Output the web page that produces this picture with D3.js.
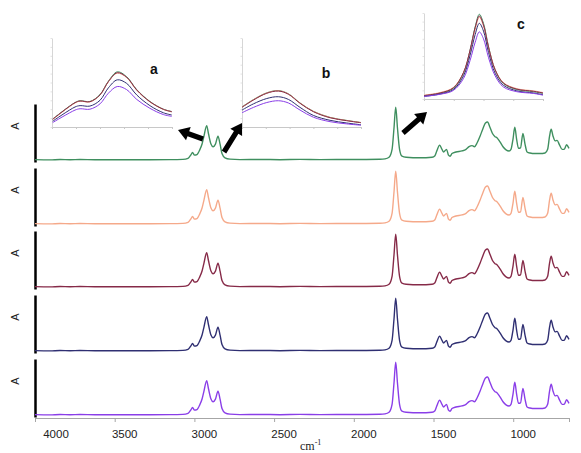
<!DOCTYPE html>
<html>
<head>
<meta charset="utf-8">
<script src="https://cdnjs.cloudflare.com/ajax/libs/d3/7.8.5/d3.min.js"></script>
<style>
body{margin:0;background:#fff;}
#plot{width:581px;height:453px;}
</style>
</head>
<body>
<div id="plot"></div>
<script>
// spectrum (wavenumber in cm-1, absorbance relative to the C=O peak)
var wavenumber = [4000,3906,3843,3780,3718,3624,3529,3404,3279,3153,3072,3040,3021,3012,2999,2984,2965,2952,2940,2923,2912,2896,2883,2868,2852,2839,2827,2808,2777,2714,
    2588,2463,2338,2212,2087,1961,1836,1804,1779,1760,1748,1737,1726,1713,1698,1672,1585,1509,1491,1478,1462,1450,1437,1418,1406,1396,1384,1359,1321,1296,
    1277,1258,1243,1227,1208,1189,1174,1161,1146,1130,1114,1102,1083,1064,1045,1026,1014,1001,990,979,967,954,939,926,913,895,863,832,800,784,
    772,762,750,737,725,709,693,680,665,656,650];
var absorbance = [0.005,0.0,0.008,0.002,0.007,0.002,0.004,0.002,0.004,0.005,0.01,0.03,0.1,0.14,0.09,0.1,0.2,0.3,0.45,0.65,0.5,0.3,0.25,0.3,0.45,0.3,0.12,0.04,0.015,0.006,
    0.008,0.004,0.009,0.005,0.007,0.008,0.012,0.02,0.05,0.2,0.6,1.0,0.6,0.2,0.07,0.05,0.04,0.05,0.08,0.18,0.28,0.22,0.15,0.2,0.09,0.07,0.12,0.15,0.17,0.2,
    0.25,0.27,0.25,0.32,0.45,0.6,0.7,0.72,0.62,0.5,0.44,0.42,0.34,0.25,0.19,0.17,0.2,0.4,0.62,0.4,0.22,0.23,0.5,0.3,0.15,0.13,0.12,0.12,0.13,0.2,
    0.45,0.58,0.45,0.36,0.37,0.28,0.2,0.2,0.29,0.25,0.22];

// one colour per sample, top panel first
var sampleColors = ['#3f8f5f', '#f5a98a', '#862a48', '#2f2f72', '#8a3ee8'];

// x axis ticks and labels
var xTicks = [4000, 3500, 3000, 2500, 2000, 1500, 1000];
var xLabels = ['4000', '3500', '3000', '2500', '2000', '1500', '1000'];

// insets (order of curves = sampleColors)
var insetAX = [0.03, 0.96, 1.17, 1.58, 2.0, 2.35, 2.72, 3.11, 3.53, 4.08, 4.64, 4.99];
var insetAValues = [
    [0.09, 0.275, 0.295, 0.287, 0.365, 0.515, 0.62, 0.565, 0.42, 0.287, 0.2, 0.174],
    [0.085, 0.27, 0.29, 0.282, 0.358, 0.508, 0.605, 0.555, 0.413, 0.282, 0.197, 0.17],
    [0.087, 0.273, 0.292, 0.284, 0.36, 0.51, 0.61, 0.56, 0.416, 0.284, 0.199, 0.172],
    [0.065, 0.225, 0.24, 0.235, 0.3, 0.44, 0.53, 0.49, 0.36, 0.24, 0.16, 0.135],
    [0.05, 0.19, 0.205, 0.2, 0.26, 0.38, 0.455, 0.42, 0.31, 0.21, 0.14, 0.12]
];
var insetBX = [0, 0.48, 1.04, 1.53, 1.95, 2.44, 3.0, 3.7, 4.4, 5.0];
var insetBValues = [
    [0.226, 0.308, 0.384, 0.409, 0.373, 0.27, 0.176, 0.108, 0.074, 0.05],
    [0.224, 0.306, 0.382, 0.407, 0.371, 0.269, 0.175, 0.107, 0.073, 0.05],
    [0.221, 0.303, 0.379, 0.404, 0.368, 0.266, 0.172, 0.104, 0.071, 0.048],
    [0.19, 0.26, 0.32, 0.34, 0.31, 0.22, 0.13, 0.075, 0.045, 0.025],
    [0.16, 0.22, 0.275, 0.295, 0.27, 0.19, 0.11, 0.06, 0.035, 0.02]
];
var insetCX = [0, 0.54, 0.99, 1.33, 1.55, 1.72, 1.86, 2.0, 2.17, 2.39, 2.67, 3.12, 3.68, 4.0];
var insetCValues = [
    [0.038, 0.066, 0.124, 0.3, 0.57, 0.84, 0.985, 0.88, 0.61, 0.34, 0.18, 0.11, 0.085, 0.066],
    [0.045, 0.075, 0.135, 0.31, 0.56, 0.81, 0.95, 0.85, 0.6, 0.345, 0.19, 0.12, 0.095, 0.075],
    [0.04, 0.07, 0.13, 0.31, 0.57, 0.83, 0.965, 0.86, 0.6, 0.34, 0.185, 0.115, 0.09, 0.07],
    [0.03, 0.058, 0.11, 0.27, 0.51, 0.75, 0.88, 0.79, 0.54, 0.3, 0.16, 0.095, 0.07, 0.05],
    [0.03, 0.055, 0.1, 0.24, 0.45, 0.66, 0.78, 0.7, 0.48, 0.27, 0.14, 0.085, 0.065, 0.045]
];

var W = 581, H = 453;
var svg = d3.select('#plot').append('svg').attr('width', W).attr('height', H)
    .style('font-family', '"Liberation Sans", Arial, sans-serif');

// x scale, reversed like an ir spectrum
var plotL = 35, plotR = 569, axisY = 418;
var scaleX = d3.scaleLinear().domain([4000, 650]).range([plotL, plotR]);

// panel baselines
var panelBase = [160, 224, 287, 351, 415];

svg.append('defs').append('clipPath').attr('id', 'clip')
    .append('rect').attr('x', plotL).attr('y', 0).attr('width', plotR - plotL + 1).attr('height', H);

var spectrum = wavenumber.map(function(w, i){return {w: w, a: absorbance[i]}});

panelBase.forEach(function(base, i){
    var scaleY = d3.scaleLinear().domain([-0.04, 1.06]).range([base + 2, base - 56]);
    var g = svg.append('g').attr('class', 'panel');

    // thick y axis bar
    var axisY1 = d3.axisLeft(scaleY).tickValues([]).tickSizeOuter(0);
    g.append('g').attr('transform', 'translate(' + plotL + ',0)').call(axisY1)
        .select('.domain').attr('stroke', '#000').attr('stroke-width', 2.5);

    g.append('text').attr('transform', 'translate(19,' + (base - 34) + ') rotate(-90)')
        .attr('text-anchor', 'middle').attr('font-size', 11).attr('fill', '#222').text('A');

    var line = d3.line().x(function(d){return scaleX(d.w)}).y(function(d){return scaleY(d.a)})
        .curve(d3.curveMonotoneX);
    g.append('path').datum(spectrum).attr('d', line).attr('clip-path', 'url(#clip)')
        .attr('fill', 'none').attr('stroke', sampleColors[i]).attr('stroke-width', 1.4)
        .attr('stroke-linejoin', 'round');
});

// bottom axis
var axisX = d3.axisBottom(scaleX).tickValues(xTicks.concat([650])).tickFormat('').tickSizeInner(4).tickSizeOuter(0);
var gx = svg.append('g').attr('transform', 'translate(0,' + axisY + ')').call(axisX);
gx.select('.domain').attr('stroke', '#a6a6a6');
gx.selectAll('.tick line').attr('stroke', '#a6a6a6');

svg.append('g').selectAll('text').data(xTicks).enter().append('text')
    .attr('x', function(d, i){return i === 0 ? scaleX(d) + 21 : scaleX(d) + 10})
    .attr('y', 438).attr('text-anchor', 'middle').attr('font-size', 11.5).attr('fill', '#222')
    .text(function(d, i){return xLabels[i]});

var unit = svg.append('text').attr('x', 300).attr('y', 450).attr('font-family', '"Liberation Serif", serif')
    .attr('font-size', 12).attr('fill', '#222');
unit.append('tspan').text('cm');
unit.append('tspan').attr('dy', -5).attr('font-size', 8).text('-1');

// insets
var insets = [
    {name: 'a', l: 52, r: 172, t: 38, b: 127, nx: 5, lx: 154, ly: 74, xs: insetAX, vals: insetAValues},
    {name: 'b', l: 242, r: 361, t: 38, b: 127, nx: 5, lx: 326, ly: 78, xs: insetBX, vals: insetBValues},
    {name: 'c', l: 424, r: 543, t: 13, b: 99, nx: 4, lx: 521, ly: 29, xs: insetCX, vals: insetCValues}
];

insets.forEach(function(ins){
    var g = svg.append('g').attr('class', 'inset');
    var sx = d3.scaleLinear().domain([0, ins.nx]).range([ins.l, ins.r]);
    var sy = d3.scaleLinear().domain([0, 1]).range([ins.b, ins.t]);

    var ax = d3.axisBottom(sx).ticks(ins.nx).tickFormat('').tickSizeInner(2).tickSizeOuter(0);
    var gax = g.append('g').attr('transform', 'translate(0,' + ins.b + ')').call(ax);
    gax.selectAll('.domain, .tick line').attr('stroke', '#c8c8c8');
    var ay = d3.axisLeft(sy).ticks(10).tickFormat('').tickSizeInner(1.5).tickSizeOuter(0);
    var gay = g.append('g').attr('transform', 'translate(' + ins.l + ',0)').call(ay);
    gay.select('.domain').attr('stroke', '#d6d6d6');
    gay.selectAll('.tick line').attr('stroke', '#e2e2e2');

    var line = d3.line().x(function(d){return sx(d[0])}).y(function(d){return sy(d[1])})
        .curve(d3.curveCatmullRom);
    ins.vals.forEach(function(v, i){
        g.append('path').datum(ins.xs.map(function(x, j){return [x, v[j]]}))
            .attr('d', line).attr('fill', 'none').attr('stroke', sampleColors[i]).attr('stroke-width', 1);
    });

    g.append('text').attr('x', ins.lx).attr('y', ins.ly).attr('text-anchor', 'middle')
        .attr('font-size', 14).attr('font-weight', 'bold').attr('fill', '#111').text(ins.name);
});

// arrows pointing from the spectrum to the insets
var arrows = [[203, 139, 178, 130], [224, 152, 242, 123], [403, 133, 427, 112]];
function arrowPath(a){
    var dx = a[2] - a[0], dy = a[3] - a[1], len = Math.sqrt(dx * dx + dy * dy);
    var ux = dx / len, uy = dy / len, px = -uy, py = ux;
    var sw = 2.6, hw = 7, hl = 11;
    var bx = a[2] - ux * hl, by = a[3] - uy * hl;
    var pts = [
        [a[0] + px * sw, a[1] + py * sw], [bx + px * sw, by + py * sw], [bx + px * hw, by + py * hw],
        [a[2], a[3]],
        [bx - px * hw, by - py * hw], [bx - px * sw, by - py * sw], [a[0] - px * sw, a[1] - py * sw]
    ];
    return 'M' + pts.map(function(p){return p[0].toFixed(1) + ',' + p[1].toFixed(1)}).join('L') + 'Z';
}
svg.append('g').selectAll('path').data(arrows).enter().append('path')
    .attr('d', arrowPath).attr('fill', '#000');
</script>
</body>
</html>
